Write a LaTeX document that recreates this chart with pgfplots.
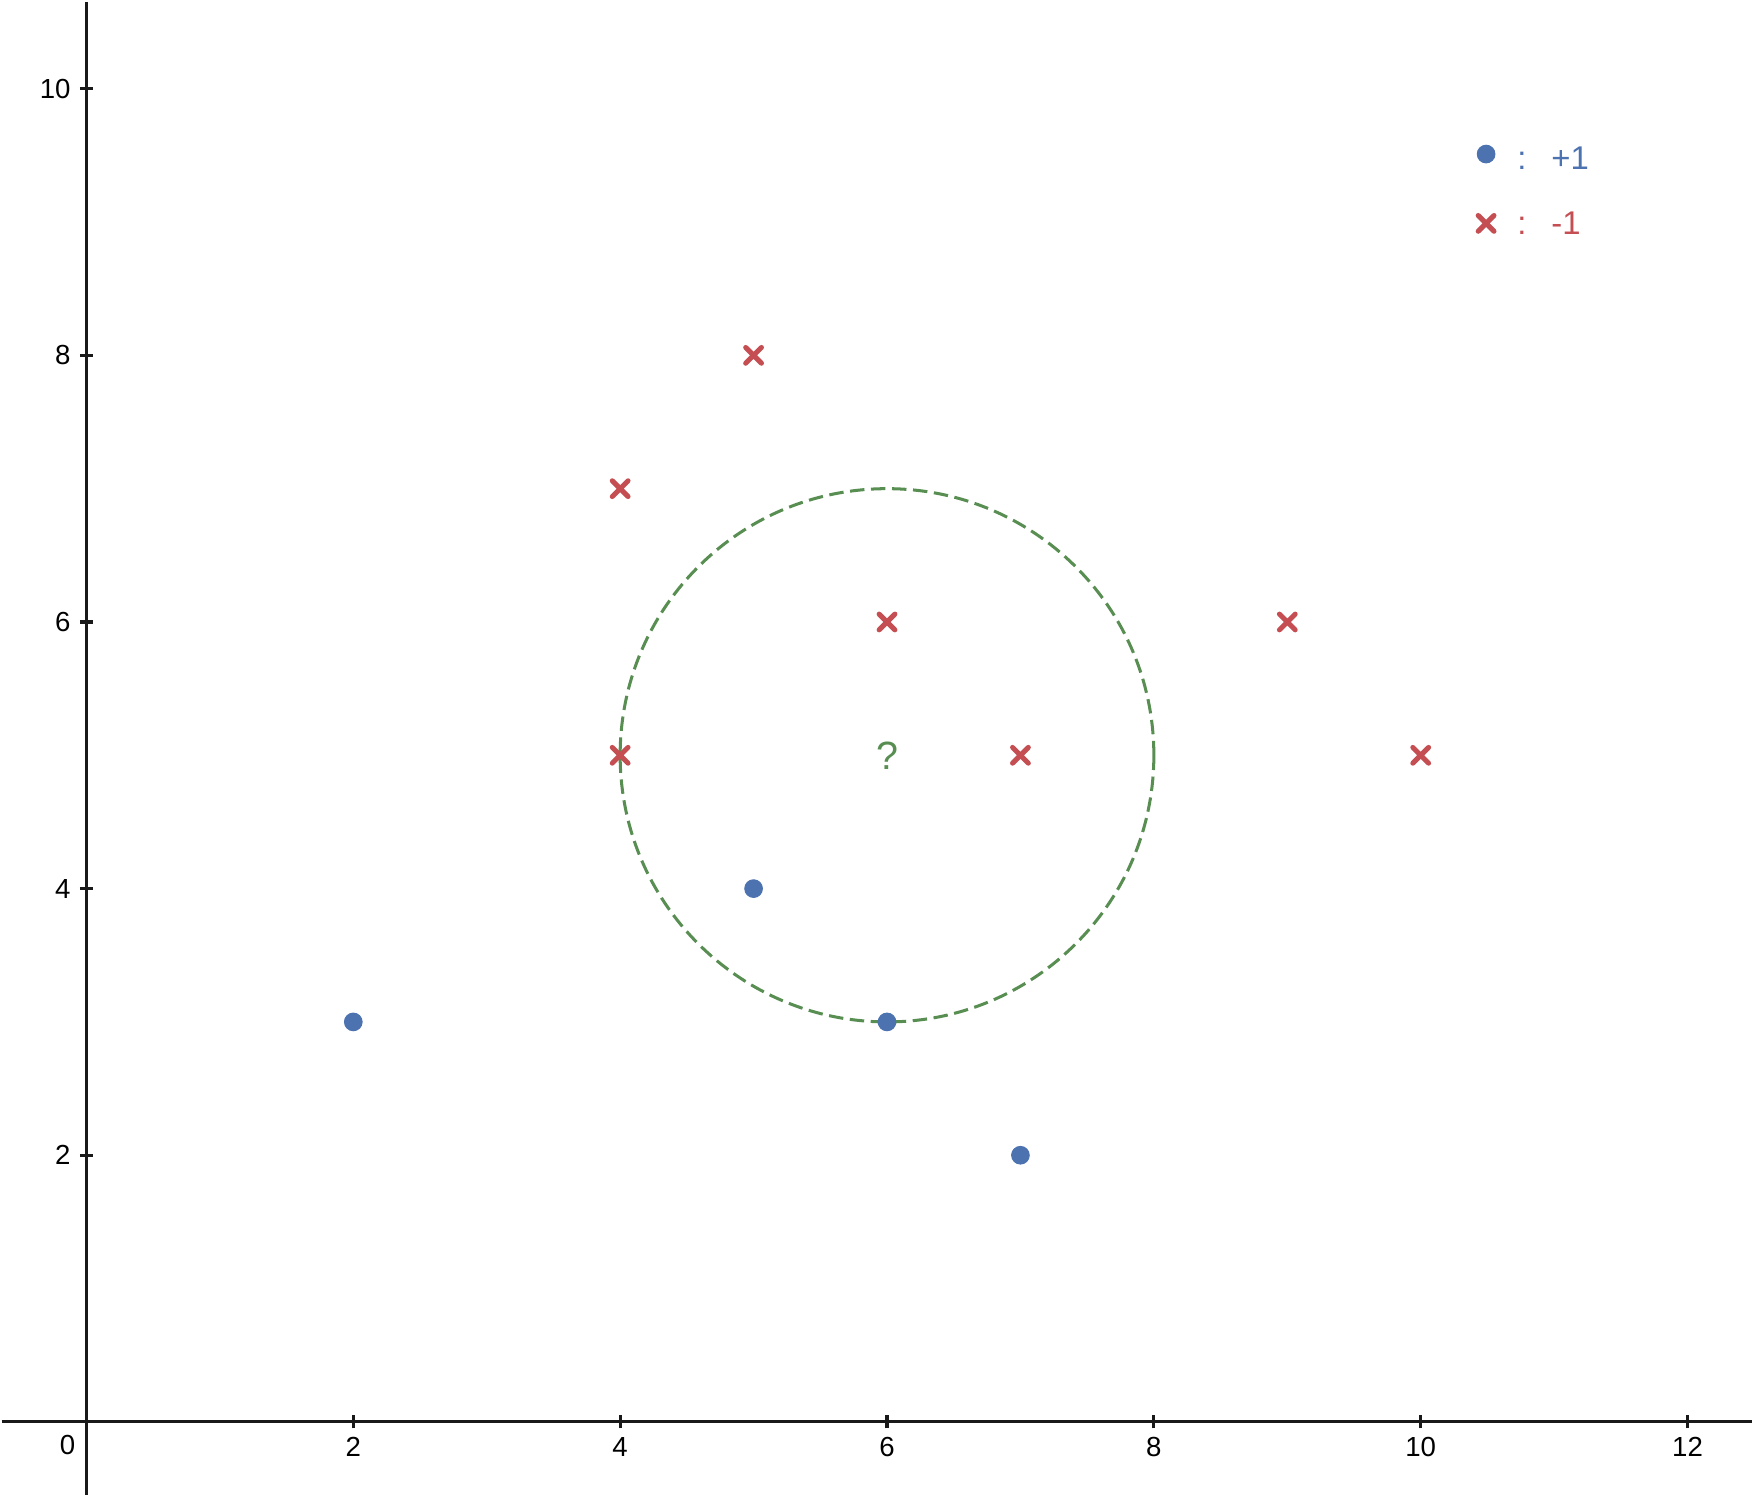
\documentclass[border=0pt]{standalone}
\usepackage{pgfplots}
\pgfplotsset{compat=1.18}
\usepackage{fontspec}
\setmainfont{Liberation Sans}
\definecolor{cblue}{RGB}{76,114,176}
\definecolor{cred}{RGB}{196,78,82}
\definecolor{cgreen}{RGB}{88,142,82}
\begin{document}
\begin{tikzpicture}
\begin{axis}[
  scale only axis,
  width=666pt, height=568pt,
  xmin=-0.636, xmax=12.486, ymin=-0.547, ymax=10.654,
  axis lines*=middle,
  axis line style={-, line width=1.2pt, black!90},
  xtick={2,4,6,8,10,12}, ytick={2,4,6,8,10},
  tick align=center,
  major tick length=5pt,
  tick style={line width=1.2pt, black!90},
  /pgf/number format/assume math mode=true,
  ticklabel style={font=\fontsize{10.5}{12}\selectfont},
  clip=false,
]
\addplot[only marks, mark=*, mark size=3.35pt, cblue, mark options={draw=cblue, fill=cblue}]
  coordinates {(2,3) (5,4) (6,3) (7,2)};
\addplot[only marks, mark=x, mark size=4.25pt, cred, mark options={line width=1.9pt, line cap=round}]
  coordinates {(4,7) (5,8) (6,6) (4,5) (7,5) (9,6) (10,5)};
\draw[cgreen, line width=1.15pt, dash pattern=on 5.5pt off 2.5pt] (axis cs:6,5) ellipse [x radius=2, y radius=2];
\node[cgreen, font=\fontsize{15}{17}\selectfont] at (axis cs:6,5) {?};
% legend
\addplot[only marks, mark=*, mark size=3.35pt, cblue, mark options={draw=cblue, fill=cblue}]
  coordinates {(10.49,9.51)};
\addplot[only marks, mark=x, mark size=4.25pt, cred, mark options={line width=1.9pt, line cap=round}]
  coordinates {(10.49,8.99)};
\node[cblue, font=\fontsize{12.5}{14}\selectfont, inner sep=0pt, anchor=base] at (axis cs:10.758,9.396) {:};
\node[cblue, font=\fontsize{12.5}{14}\selectfont, inner sep=0pt, anchor=base west] at (axis cs:10.975,9.396) {+1};
\node[cred, font=\fontsize{12.5}{14}\selectfont, inner sep=0pt, anchor=base] at (axis cs:10.758,8.909) {:};
\node[cred, font=\fontsize{12.5}{14}\selectfont, inner sep=0pt, anchor=base west] at (axis cs:10.975,8.909) {-1};
\node[font=\fontsize{10.5}{12}\selectfont, anchor=north east, inner sep=0pt] at (axis cs:-0.08,-0.1) {0};
\end{axis}
\end{tikzpicture}
\end{document}
